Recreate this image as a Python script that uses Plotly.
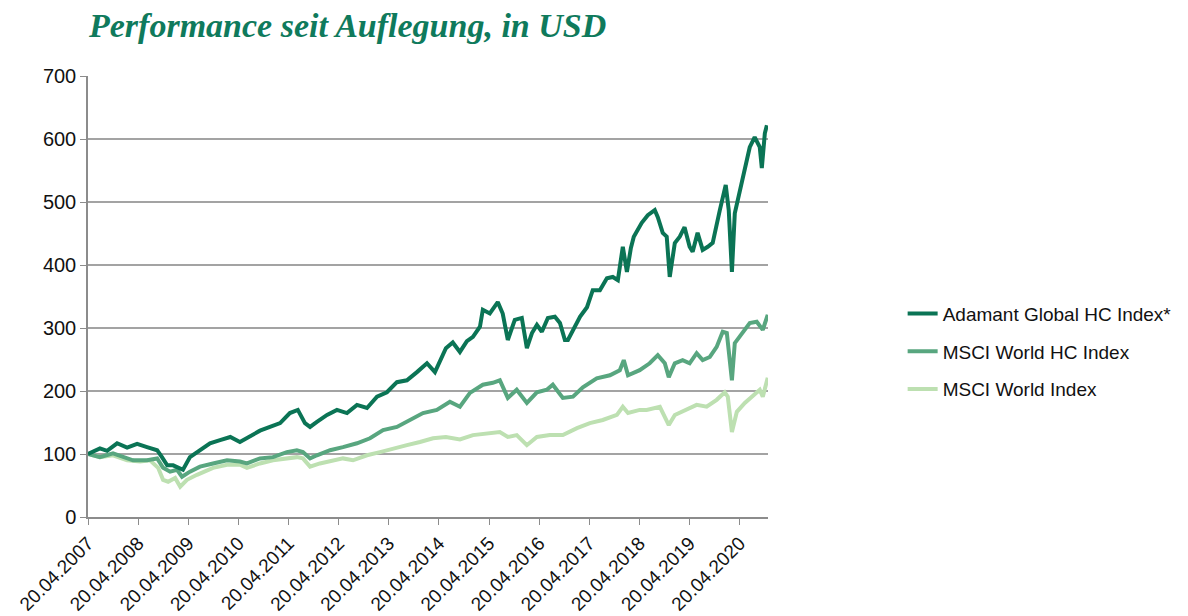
import plotly.graph_objects as go

# ---------------- data ----------------
adamant_dates = [
    "2007-04-20", "2007-07-16", "2007-09-06", "2007-11-18", "2008-01-30", "2008-04-12",
    "2008-06-23", "2008-09-05", "2008-10-10", "2008-11-17", "2008-12-30", "2009-02-20",
    "2009-03-12", "2009-05-02", "2009-07-14", "2009-09-25", "2009-12-07", "2010-02-20",
    "2010-05-01", "2010-07-13", "2010-09-24", "2010-12-06", "2011-02-18", "2011-04-30",
    "2011-06-27", "2011-08-18", "2011-09-24", "2011-11-13", "2012-01-26", "2012-04-07",
    "2012-06-19", "2012-08-31", "2012-11-12", "2013-01-24", "2013-04-06", "2013-06-18",
    "2013-08-30", "2013-11-11", "2014-01-23", "2014-03-22", "2014-05-18", "2014-06-10",
    "2014-07-30", "2014-09-20", "2014-11-10", "2014-12-24", "2015-02-13", "2015-03-06",
    "2015-04-26", "2015-06-23", "2015-07-29", "2015-09-04", "2015-10-25", "2015-12-15",
    "2016-01-21", "2016-02-27", "2016-04-03", "2016-05-09", "2016-06-22", "2016-08-12",
    "2016-09-18", "2016-10-24", "2016-11-15", "2016-12-22", "2017-02-12", "2017-04-03",
    "2017-05-15", "2017-07-06", "2017-08-26", "2017-10-08", "2017-11-14", "2017-12-20",
    "2018-01-19", "2018-02-17", "2018-03-10", "2018-05-07", "2018-06-20", "2018-08-10",
    "2018-09-01", "2018-10-07", "2018-11-05", "2018-11-27", "2019-01-03", "2019-02-08",
    "2019-03-15", "2019-04-21", "2019-05-13", "2019-06-18", "2019-07-25", "2019-08-31",
    "2019-10-06", "2019-11-27", "2020-01-09", "2020-01-31", "2020-02-23", "2020-03-15",
    "2020-04-20", "2020-05-27", "2020-07-02", "2020-08-07", "2020-09-13", "2020-09-28",
    "2020-10-20", "2020-11-04",
]
adamant_values = [
    100, 109, 105, 117, 110, 116,
    111, 106, 95, 82, 82, 78,
    75, 95, 106, 117, 122, 127,
    119, 128, 137, 143, 149, 165,
    170, 149, 143, 151, 162, 170,
    165, 178, 173, 191, 198, 214,
    217, 230, 244, 230, 260, 268,
    277, 262, 279, 286, 302, 329,
    323, 341, 323, 281, 313, 316,
    268, 292, 305, 294, 316, 318,
    308, 281, 281, 297, 318, 333,
    360, 360, 379, 381, 376, 429,
    389, 427, 445, 467, 479, 487,
    476, 451, 445, 381, 435, 445,
    460, 429, 421, 451, 424, 429,
    435, 487, 527, 487, 389, 482,
    519, 556, 587, 603, 587, 554,
    609, 622,
]

hc_dates = [
    "2007-04-20", "2007-07-16", "2007-10-19", "2008-01-01", "2008-03-13", "2008-06-23",
    "2008-09-05", "2008-10-18", "2008-12-08", "2009-01-28", "2009-03-05", "2009-05-02",
    "2009-07-14", "2009-10-17", "2010-01-27", "2010-05-01", "2010-06-21", "2010-09-24",
    "2010-12-28", "2011-04-08", "2011-06-20", "2011-08-03", "2011-09-24", "2011-11-13",
    "2012-02-17", "2012-05-21", "2012-08-31", "2012-12-04", "2013-03-09", "2013-06-18",
    "2013-09-21", "2013-12-25", "2014-04-05", "2014-07-09", "2014-09-20", "2014-12-02",
    "2015-03-06", "2015-05-18", "2015-07-08", "2015-09-04", "2015-11-08", "2016-01-21",
    "2016-04-03", "2016-06-14", "2016-07-28", "2016-10-09", "2016-12-22", "2017-03-04",
    "2017-06-13", "2017-09-17", "2017-11-28", "2017-12-27", "2018-01-27", "2018-04-22",
    "2018-07-04", "2018-09-01", "2018-10-22", "2018-11-20", "2019-01-03", "2019-03-01",
    "2019-04-21", "2019-06-11", "2019-07-25", "2019-09-15", "2019-11-04", "2019-12-18",
    "2020-01-17", "2020-02-23", "2020-03-15", "2020-05-12", "2020-07-02", "2020-08-22",
    "2020-10-05", "2020-11-10",
]
hc_values = [
    100, 95, 101, 95, 90, 90,
    93, 78, 72, 75, 64, 72,
    80, 85, 90, 88, 85, 93,
    95, 103, 106, 103, 93, 98,
    106, 111, 117, 125, 138, 143,
    154, 165, 170, 183, 175, 197,
    210, 213, 217, 189, 202, 181,
    198, 202, 210, 189, 191, 206,
    220, 225, 233, 249, 225, 233,
    244, 257, 244, 222, 244, 249,
    244, 260, 249, 254, 270, 294,
    292, 217, 276, 292, 308, 310,
    297, 321,
]

world_dates = [
    "2007-04-20", "2007-07-16", "2007-10-19", "2008-01-30", "2008-05-04", "2008-07-15",
    "2008-09-12", "2008-10-18", "2008-11-24", "2009-01-14", "2009-02-20", "2009-04-10",
    "2009-06-22", "2009-10-17", "2010-01-27", "2010-05-01", "2010-06-21", "2010-09-24",
    "2010-12-28", "2011-04-08", "2011-06-20", "2011-08-03", "2011-09-24", "2011-12-05",
    "2012-02-17", "2012-05-21", "2012-08-02", "2012-11-12", "2013-02-15", "2013-05-20",
    "2013-08-30", "2013-12-03", "2014-03-08", "2014-06-10", "2014-09-20", "2014-12-24",
    "2015-04-04", "2015-07-08", "2015-09-04", "2015-11-08", "2016-01-21", "2016-04-03",
    "2016-07-06", "2016-10-09", "2017-01-20", "2017-04-24", "2017-07-27", "2017-11-07",
    "2017-12-20", "2018-01-27", "2018-04-22", "2018-06-12", "2018-09-16", "2018-11-20",
    "2019-01-03", "2019-03-30", "2019-06-11", "2019-08-23", "2019-11-04", "2020-01-02",
    "2020-01-24", "2020-02-23", "2020-03-30", "2020-05-27", "2020-07-23", "2020-09-13",
    "2020-10-05", "2020-11-10",
]
world_values = [
    100, 95, 98, 90, 88, 90,
    78, 59, 56, 62, 48, 59,
    67, 78, 83, 83, 78, 85,
    90, 93, 95, 93, 80, 85,
    88, 93, 90, 98, 103, 109,
    114, 119, 125, 127, 123, 130,
    133, 135, 127, 130, 114, 127,
    130, 130, 141, 149, 154, 162,
    175, 165, 170, 170, 175, 146,
    162, 170, 178, 175, 186, 198,
    191, 135, 167, 181, 191, 202,
    191, 221,
]

series_names = ["Adamant Global HC Index*", "MSCI World HC Index", "MSCI World Index"]
series_colors = ["#0b7455", "#58a67f", "#bde0b1"]

tick_dates = ["2007-04-20", "2008-04-20", "2009-04-20", "2010-04-20", "2011-04-20",
              "2012-04-20", "2013-04-20", "2014-04-20", "2015-04-20", "2016-04-20",
              "2017-04-20", "2018-04-20", "2019-04-20", "2020-04-20"]
tick_labels = ["20.04.2007", "20.04.2008", "20.04.2009", "20.04.2010", "20.04.2011",
               "20.04.2012", "20.04.2013", "20.04.2014", "20.04.2015", "20.04.2016",
               "20.04.2017", "20.04.2018", "20.04.2019", "20.04.2020"]

title_text = "Performance seit Auflegung, in USD"

# ---------------- figure ----------------
fig = go.Figure()
all_dates = [adamant_dates, hc_dates, world_dates]
all_values = [adamant_values, hc_values, world_values]
# draw light first so darker lines are on top, but keep legend order
order = [2, 1, 0]
for i in order:
    fig.add_trace(go.Scatter(
        x=all_dates[i], y=all_values[i], mode="lines", name=series_names[i],
        line=dict(color=series_colors[i], width=4), legendrank=i + 1,
        legendgroup=str(i),
    ))

fig.update_layout(
    width=1188, height=616,
    margin=dict(l=88, r=420, t=76, b=99, autoexpand=False),
    paper_bgcolor="white", plot_bgcolor="white",
    font=dict(family="Liberation Sans, Arial, sans-serif", size=19, color="#111111"),
    title=dict(
        text=title_text, x=89 / 1188, xanchor="left", y=1 - 25 / 616, yanchor="middle",
        font=dict(family="Liberation Serif, serif", size=34, color="#0f7a5c",
                  style="italic", weight="bold"),
    ),
    legend=dict(
        x=1.198, xanchor="left", y=0.375, yanchor="middle",
        font=dict(size=19, color="#111111"), tracegroupgap=10,
        itemwidth=30, bgcolor="rgba(0,0,0,0)",
    ),
    showlegend=True,
)

fig.update_xaxes(
    type="date", range=["2007-04-20", "2020-11-12"], automargin=False,
    tickmode="array", tickvals=tick_dates, ticktext=tick_labels, tickangle=-45,
    showgrid=False, showline=True, linecolor="#8c8c8c", linewidth=1.5,
    ticks="outside", ticklen=6, tickcolor="#8c8c8c", tickwidth=1.2,
    tickfont=dict(size=19), zeroline=False,
)
fig.update_yaxes(
    range=[0, 700], dtick=100, tick0=0, automargin=False,
    showgrid=True, gridcolor="#a3a3a3", gridwidth=1.5,
    showline=True, linecolor="#8c8c8c", linewidth=1.5,
    ticks="outside", ticklen=6, tickcolor="#8c8c8c",
    tickfont=dict(size=20), zeroline=False,
)

fig.write_html(
    "out.html",
    config={"displayModeBar": False},
    post_script="document.body.style.margin='0';document.body.style.overflow='hidden';",
)
